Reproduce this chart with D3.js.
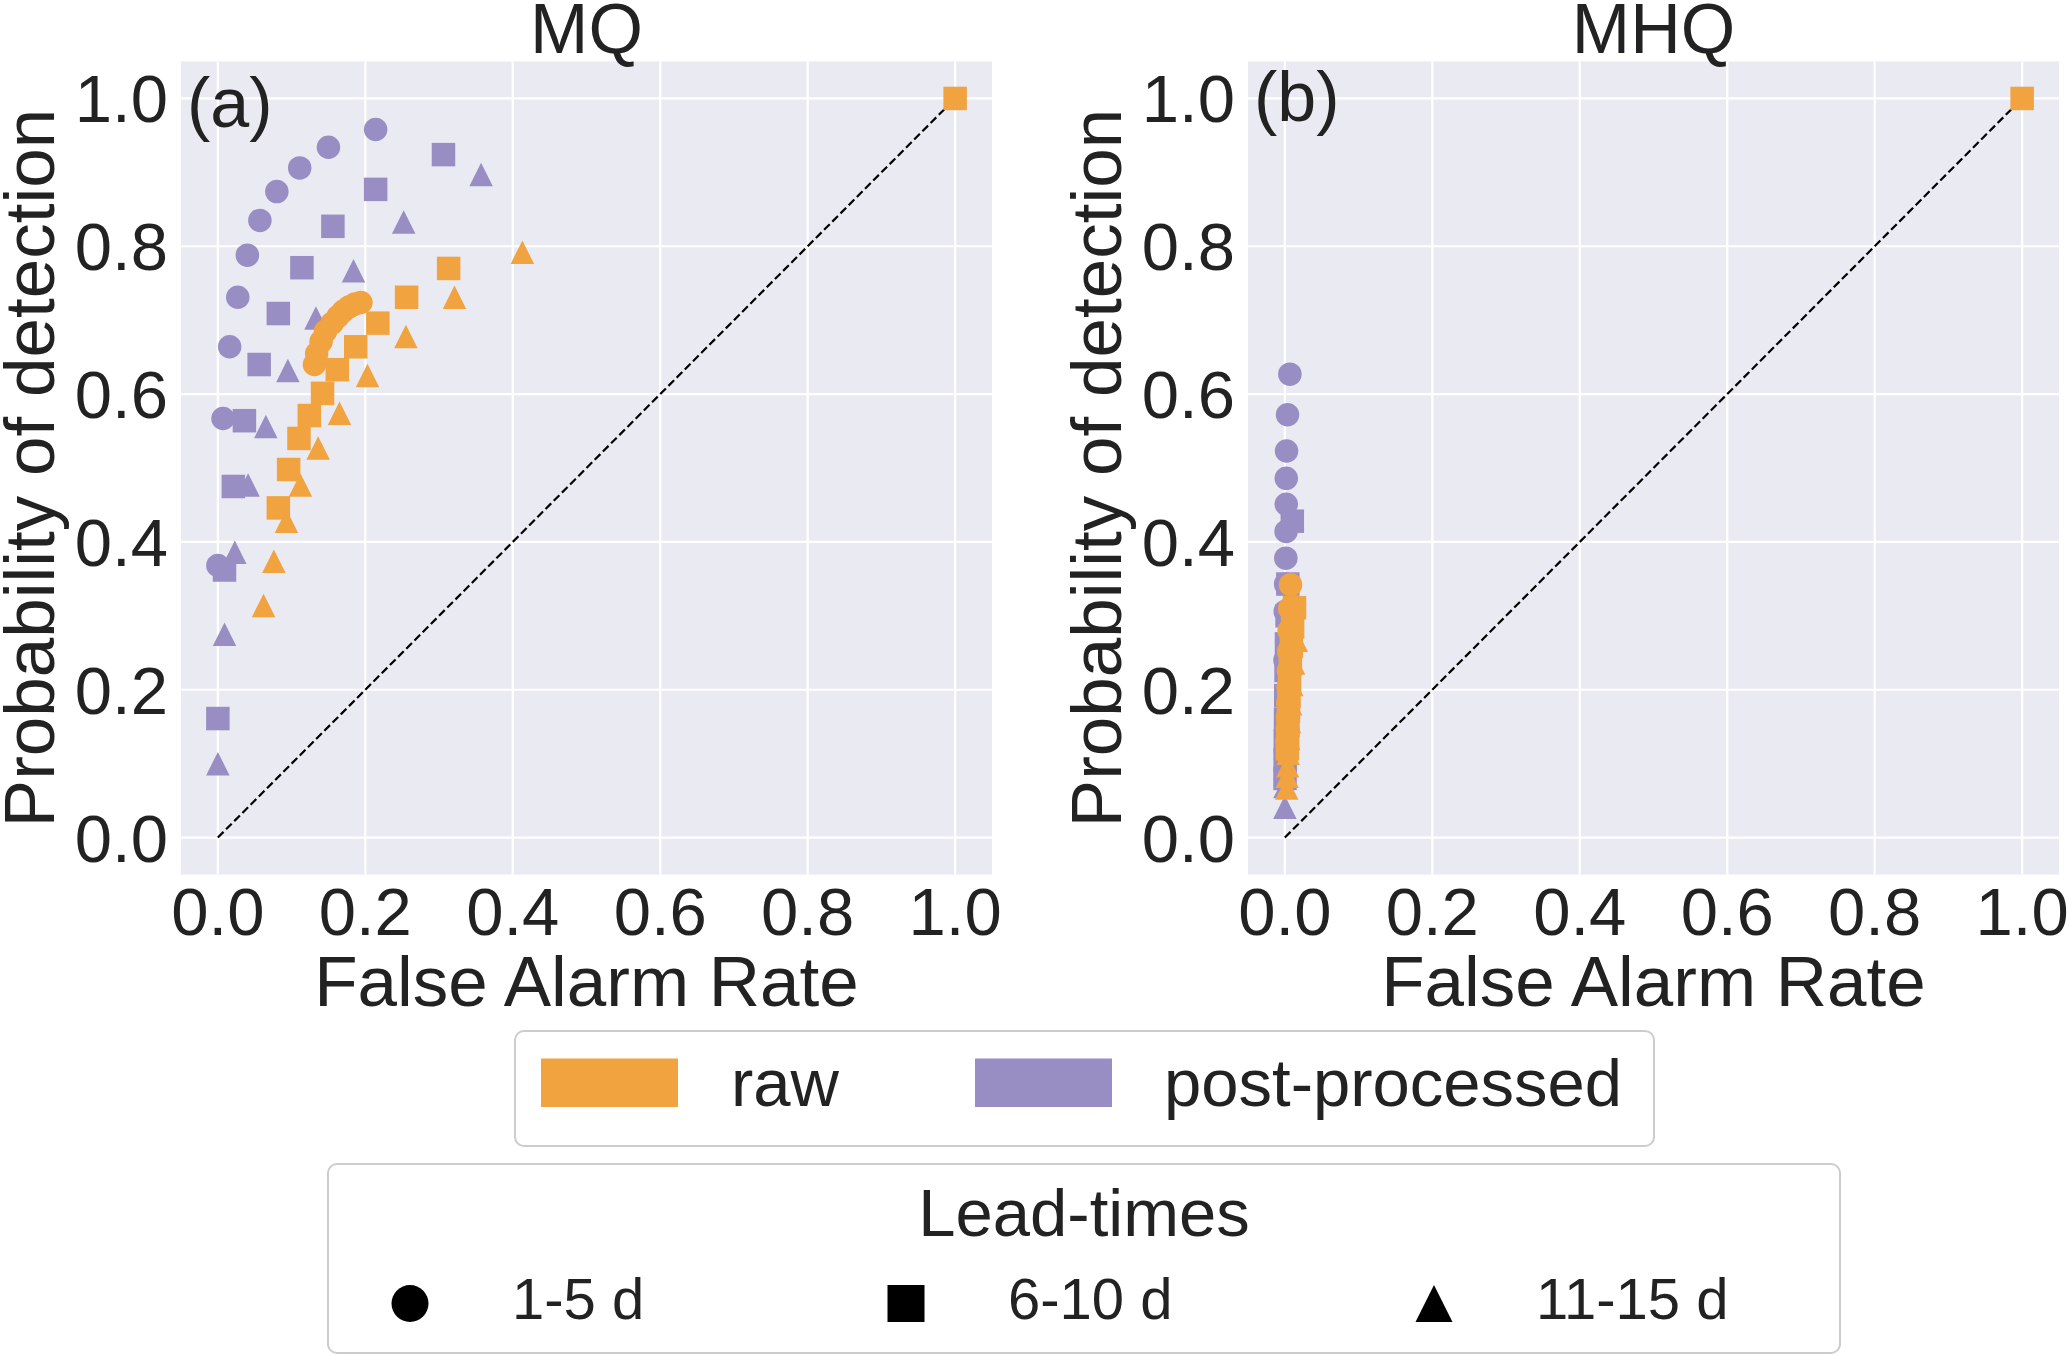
<!DOCTYPE html>
<html>
<head>
<meta charset="utf-8">
<script src="https://cdn.jsdelivr.net/npm/d3@7"></script>
<style>
  html, body { margin: 0; padding: 0; background: #ffffff; }
  svg { display: block; }
  text { font-family: "Liberation Sans", Arial, sans-serif; fill: #222222; }
</style>
</head>
<body>
<svg id="chart" width="2067" height="1355"></svg>
<script>
// ---------------- DATA ----------------
const panelTitles = ["MQ", "MHQ"];
const panelTags = ["(a)", "(b)"];
const tickValues = [0.0, 0.2, 0.4, 0.6, 0.8, 1.0];
const seriesNames = ["raw", "post-processed"];
const leadTimes = ["1-5 d", "6-10 d", "11-15 d"];

// Panel (a) MQ : raw forecasts
const mqRaw15_far = [0.131, 0.134, 0.140, 0.146, 0.155, 0.163, 0.170, 0.178, 0.186, 0.194];
const mqRaw15_pod = [0.640, 0.655, 0.671, 0.685, 0.696, 0.705, 0.712, 0.718, 0.722, 0.724];
const mqRaw610_far = [0.313, 0.256, 0.217, 0.187, 0.162, 0.142, 0.124, 0.110, 0.096, 0.082, 1.0];
const mqRaw610_pod = [0.770, 0.731, 0.696, 0.664, 0.633, 0.601, 0.571, 0.540, 0.498, 0.446, 1.0];
const mqRaw1115_far = [0.413, 0.321, 0.255, 0.203, 0.165, 0.136, 0.112, 0.093, 0.076, 0.062];
const mqRaw1115_pod = [0.792, 0.731, 0.678, 0.625, 0.574, 0.527, 0.477, 0.428, 0.374, 0.314];
// Panel (a) MQ : post-processed forecasts
const mqPost15_far = [0.214, 0.150, 0.111, 0.080, 0.057, 0.040, 0.027, 0.016, 0.007, 0.000];
const mqPost15_pod = [0.958, 0.934, 0.906, 0.874, 0.835, 0.788, 0.731, 0.664, 0.567, 0.368];
const mqPost610_far = [0.306, 0.214, 0.156, 0.114, 0.082, 0.056, 0.036, 0.021, 0.009, 0.000];
const mqPost610_pod = [0.924, 0.877, 0.827, 0.771, 0.709, 0.640, 0.564, 0.475, 0.362, 0.161];
const mqPost1115_far = [0.357, 0.252, 0.184, 0.133, 0.095, 0.065, 0.041, 0.023, 0.009, 0.000];
const mqPost1115_pod = [0.897, 0.833, 0.767, 0.703, 0.632, 0.556, 0.477, 0.386, 0.275, 0.100];

// Panel (b) MHQ : raw forecasts
const mhqRaw15_far = [0.0077, 0.0065, 0.0058, 0.0052, 0.0048, 0.0044, 0.0040, 0.0037, 0.0034, 0.0031];
const mhqRaw15_pod = [0.342, 0.310, 0.280, 0.252, 0.226, 0.203, 0.182, 0.163, 0.146, 0.130];
const mhqRaw610_far = [0.0131, 0.0105, 0.0088, 0.0075, 0.0064, 0.0056, 0.0049, 0.0043, 0.0038, 0.0034, 1.0];
const mhqRaw610_pod = [0.311, 0.285, 0.259, 0.235, 0.212, 0.191, 0.171, 0.152, 0.135, 0.120, 1.0];
const mhqRaw1115_far = [0.0155, 0.0118, 0.0095, 0.0078, 0.0064, 0.0053, 0.0044, 0.0037, 0.0031, 0.0026];
const mhqRaw1115_pod = [0.267, 0.236, 0.207, 0.181, 0.157, 0.134, 0.114, 0.097, 0.083, 0.067];
// Panel (b) MHQ : post-processed forecasts
const mhqPost15_far = [0.0068, 0.0036, 0.0023, 0.0019, 0.0019, 0.0016, 0.0013, 0.0010, 0.0005, 0.0002];
const mhqPost15_pod = [0.627, 0.572, 0.523, 0.486, 0.451, 0.414, 0.378, 0.343, 0.306, 0.240];
const mhqPost610_far = [0.0101, 0.0040, 0.0030, 0.0022, 0.0016, 0.0012, 0.0009, 0.0006, 0.0004, 0.0002];
const mhqPost610_pod = [0.428, 0.343, 0.300, 0.262, 0.226, 0.192, 0.160, 0.131, 0.105, 0.080];
const mhqPost1115_far = [0.0052, 0.0033, 0.0023, 0.0016, 0.0011, 0.0008, 0.0005, 0.0003, 0.0001, 0.0000];
const mhqPost1115_pod = [0.320, 0.282, 0.246, 0.212, 0.181, 0.151, 0.122, 0.095, 0.069, 0.041];

// ---------------- STYLE / LAYOUT ----------------
const colors = { "raw": "#f1a340", "post-processed": "#998ec3" };
const shapes = ["circle", "square", "triangle"];
const bg = "#eaeaf2";

const svg = d3.select("#chart");
const plotSize = 811;
const plotTop = 61.5, plotBottom = 874.5;
const panelLefts = [181, 1248];
const tagBaselines = [127, 121];

const zip = (xs, ys) => xs.map((v, i) => ({ x: v, y: ys[i] }));

const panels = [
  {
    post: [zip(mqPost15_far, mqPost15_pod), zip(mqPost610_far, mqPost610_pod), zip(mqPost1115_far, mqPost1115_pod)],
    raw: [zip(mqRaw15_far, mqRaw15_pod), zip(mqRaw610_far, mqRaw610_pod), zip(mqRaw1115_far, mqRaw1115_pod)]
  },
  {
    post: [zip(mhqPost15_far, mhqPost15_pod), zip(mhqPost610_far, mhqPost610_pod), zip(mhqPost1115_far, mhqPost1115_pod)],
    raw: [zip(mhqRaw15_far, mhqRaw15_pod), zip(mhqRaw610_far, mhqRaw610_pod), zip(mhqRaw1115_far, mhqRaw1115_pod)]
  }
];

function drawMarker(g, shape, cx, cy, size, color) {
  const h = size / 2;
  if (shape === "circle") {
    g.append("circle").attr("cx", cx).attr("cy", cy).attr("r", h).attr("fill", color);
  } else if (shape === "square") {
    g.append("rect").attr("x", cx - h).attr("y", cy - h).attr("width", size).attr("height", size).attr("fill", color);
  } else {
    g.append("path").attr("d", `M${cx},${cy - h}L${cx + h},${cy + h}L${cx - h},${cy + h}Z`).attr("fill", color);
  }
}

panels.forEach((p, pi) => {
  const left = panelLefts[pi];
  const x = d3.scaleLinear().domain([-0.05, 1.05]).range([left, left + plotSize]);
  const y = d3.scaleLinear().domain([-0.05, 1.05]).range([plotBottom, plotTop]);
  const g = svg.append("g");

  g.append("rect").attr("x", left).attr("y", plotTop)
    .attr("width", plotSize).attr("height", plotBottom - plotTop).attr("fill", bg);

  // grid
  g.selectAll(".gx").data(tickValues).enter().append("line")
    .attr("x1", d => x(d)).attr("x2", d => x(d)).attr("y1", plotTop).attr("y2", plotBottom)
    .attr("stroke", "#ffffff").attr("stroke-width", 2.2);
  g.selectAll(".gy").data(tickValues).enter().append("line")
    .attr("y1", d => y(d)).attr("y2", d => y(d)).attr("x1", left).attr("x2", left + plotSize)
    .attr("stroke", "#ffffff").attr("stroke-width", 2.2);

  // tick labels
  g.selectAll(".tx").data(tickValues).enter().append("text")
    .attr("x", d => x(d)).attr("y", 935).attr("text-anchor", "middle")
    .attr("font-size", 67).text(d => d.toFixed(1));
  g.selectAll(".ty").data(tickValues).enter().append("text")
    .attr("x", left - 13).attr("y", d => y(d) + 24).attr("text-anchor", "end")
    .attr("font-size", 67).text(d => d.toFixed(1));

  // diagonal reference
  g.append("line").attr("x1", x(0)).attr("y1", y(0)).attr("x2", x(1)).attr("y2", y(1))
    .attr("stroke", "#000").attr("stroke-width", 2.2).attr("stroke-dasharray", "8,3.6");

  // markers: post-processed first, raw on top
  [["post", "post-processed"], ["raw", "raw"]].forEach(([key, name]) => {
    p[key].forEach((pts, si) => {
      const sg = g.append("g");
      pts.forEach(d => drawMarker(sg, shapes[si], x(d.x), y(d.y), 23.5, colors[name]));
    });
  });

  // titles & labels
  const cx = left + plotSize / 2;
  g.append("text").attr("x", cx).attr("y", 53).attr("text-anchor", "middle")
    .attr("font-size", 70).text(panelTitles[pi]);
  g.append("text").attr("x", cx).attr("y", 1006).attr("text-anchor", "middle")
    .attr("font-size", 71).text("False Alarm Rate");
  g.append("text").attr("transform", `translate(${left - 127},${(plotTop + plotBottom) / 2}) rotate(-90)`)
    .attr("text-anchor", "middle").attr("font-size", 71).text("Probability of detection");
  g.append("text").attr("x", left + 6).attr("y", tagBaselines[pi])
    .attr("font-size", 70).text(panelTags[pi]);
});

// ---------------- LEGEND 1 (series colours) ----------------
const lg1 = svg.append("g");
lg1.append("rect").attr("x", 515).attr("y", 1031).attr("width", 1139).attr("height", 115)
  .attr("rx", 9).attr("fill", "#fff").attr("stroke", "#cccccc").attr("stroke-width", 2);
const lg1Items = [
  { name: seriesNames[0], rx: 541, tx: 731 },
  { name: seriesNames[1], rx: 975, tx: 1164 }
];
lg1Items.forEach(it => {
  lg1.append("rect").attr("x", it.rx).attr("y", 1058.5).attr("width", 137).attr("height", 48.5)
    .attr("fill", colors[it.name]);
  lg1.append("text").attr("x", it.tx).attr("y", 1106).attr("font-size", 67).text(it.name);
});

// ---------------- LEGEND 2 (lead-time markers) ----------------
const lg2 = svg.append("g");
lg2.append("rect").attr("x", 328).attr("y", 1164).attr("width", 1512).attr("height", 189)
  .attr("rx", 9).attr("fill", "#fff").attr("stroke", "#cccccc").attr("stroke-width", 2);
lg2.append("text").attr("x", 1084).attr("y", 1236).attr("text-anchor", "middle")
  .attr("font-size", 67).text("Lead-times");
const lg2Pos = [{ mx: 410, tx: 512 }, { mx: 906, tx: 1008 }, { mx: 1434, tx: 1536 }];
leadTimes.forEach((lt, i) => {
  drawMarker(lg2, shapes[i], lg2Pos[i].mx, 1303.5, 37, "#000000");
  lg2.append("text").attr("x", lg2Pos[i].tx).attr("y", 1319).attr("font-size", 58).text(lt);
});
</script>
</body>
</html>
